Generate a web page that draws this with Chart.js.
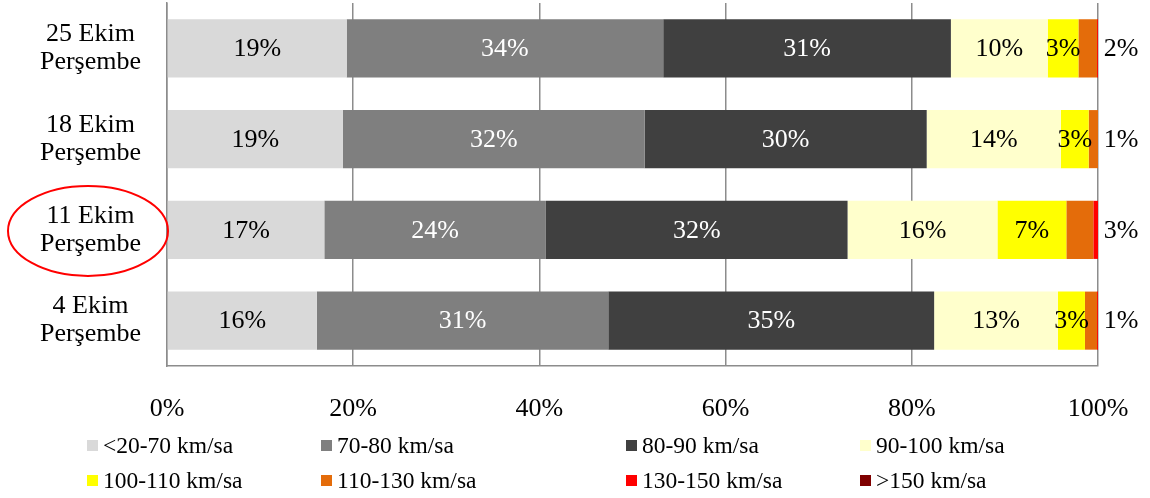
<!DOCTYPE html>
<html>
<head>
<meta charset="utf-8">
<script src="https://cdn.jsdelivr.net/npm/chart.js@4/dist/chart.umd.min.js"></script>
<style>
  html, body { margin: 0; padding: 0; background: #fff; }
  #wrap { width: 1150px; height: 498px; position: relative; }
</style>
</head>
<body>
<div id="wrap"><canvas id="speedChart"></canvas></div>
<script>
// dates (top to bottom)
var days = [['25 Ekim', 'Perşembe'], ['18 Ekim', 'Perşembe'], ['11 Ekim', 'Perşembe'], ['4 Ekim', 'Perşembe']];

// share of vehicles per speed band, %
var band20to70 = [19.3, 18.9, 16.9, 16.1];
var band70to80 = [34.0, 32.4, 23.8, 31.3];
var band80to90 = [30.9, 30.3, 32.4, 35.0];
var band90to100 = [10.4, 14.4, 16.1, 13.3];
var band100to110 = [3.3, 3.0, 7.4, 2.9];
var band110to130 = [2.0, 1.0, 2.9, 1.3];
var band130to150 = [0.1, 0.0, 0.5, 0.1];
var bandOver150 = [0, 0, 0, 0];

var bandNames = ['<20-70 km/sa', '70-80 km/sa', '80-90 km/sa', '90-100 km/sa',
    '100-110 km/sa', '110-130 km/sa', '130-150 km/sa', '>150 km/sa'];
var bandColors = ['#d9d9d9', '#7f7f7f', '#404040', '#ffffcc', '#ffff00', '#e46c0a', '#ff0000', '#7f0000'];
var labelColors = ['#000', '#fff', '#fff', '#000', '#000', '#000', null, null];

var xTicks = [0, 20, 40, 60, 80, 100];

var serif = "'Liberation Serif', 'Times New Roman', serif";

var allBands = [band20to70, band70to80, band80to90, band90to100, band100to110, band110to130, band130to150, bandOver150];

var datasets = allBands.map(function (vals, i) {
    return {
        label: bandNames[i],
        data: vals,
        backgroundColor: bandColors[i],
        borderWidth: 0,
        barPercentage: 0.64,
        categoryPercentage: 1
    };
});

// value labels inside the bars; the orange band is labelled past the bar end
var barLabels = {
    id: 'barLabels',
    afterDatasetsDraw: function (chart) {
        var ctx = chart.ctx;
        ctx.save();
        ctx.font = '26px ' + serif;
        ctx.textAlign = 'center';
        ctx.textBaseline = 'middle';
        chart.data.datasets.forEach(function (ds, i) {
            if (!labelColors[i]) return;
            chart.getDatasetMeta(i).data.forEach(function (el, j) {
                var v = ds.data[j];
                if (!v) return;
                var txt = Math.round(v) + '%';
                var x = (el.x + el.base) / 2;
                if (i === 5) x = chart.chartArea.right + 23;
                ctx.fillStyle = labelColors[i];
                ctx.fillText(txt, x, el.y + 1);
            });
        });
        ctx.restore();
    }
};

// legend laid out in four columns like the original
var gridLegend = {
    id: 'gridLegend',
    afterDraw: function (chart) {
        var ctx = chart.ctx;
        var colX = [87, 321, 626, 860];
        var rowY = [446, 481];
        ctx.save();
        ctx.font = '23.5px ' + serif;
        ctx.textBaseline = 'middle';
        ctx.textAlign = 'left';
        bandNames.forEach(function (name, i) {
            var x = colX[i % 4];
            var y = rowY[Math.floor(i / 4)];
            ctx.fillStyle = bandColors[i];
            ctx.fillRect(x, y - 6, 11, 11);
            ctx.fillStyle = '#000';
            ctx.fillText(name, x + 16, y + 1);
        });
        ctx.restore();
    }
};

// red ring drawn around "11 Ekim Perşembe"
var ring = {
    id: 'ring',
    afterDraw: function (chart) {
        var ctx = chart.ctx;
        var yScale = chart.scales.y;
        var cy = yScale.getPixelForValue(2);
        ctx.save();
        ctx.strokeStyle = '#ff0000';
        ctx.lineWidth = 2;
        ctx.beginPath();
        ctx.ellipse(88, cy + 1, 80, 45, 0, 0, Math.PI * 2);
        ctx.stroke();
        ctx.restore();
    }
};

new Chart(document.getElementById('speedChart'), {
    type: 'bar',
    data: { labels: days, datasets: datasets },
    options: {
        indexAxis: 'y',
        responsive: true,
        maintainAspectRatio: false,
        animation: false,
        layout: { padding: { top: 3, right: 52, bottom: 0, left: 0 } },
        plugins: {
            legend: { display: false },
            tooltip: { enabled: false }
        },
        scales: {
            x: {
                stacked: true,
                min: 0,
                max: 100,
                afterBuildTicks: function (scale) {
                    scale.ticks = xTicks.map(function (v) { return { value: v }; });
                },
                afterFit: function (scale) {
                    scale.height = 132;
                    scale.paddingLeft = 0;
                    scale.paddingRight = 0;
                },
                grid: { color: '#8c8c8c', lineWidth: 1.5, drawTicks: false },
                border: { color: '#8c8c8c', width: 1.5 },
                ticks: {
                    padding: 28,
                    color: '#000',
                    font: { family: serif, size: 26 },
                    callback: function (v) { return v + '%'; }
                }
            },
            y: {
                stacked: true,
                afterFit: function (scale) {
                    scale.width = 167;
                    scale.paddingTop = 0;
                    scale.paddingBottom = 0;
                },
                grid: { display: false, drawTicks: false },
                border: { color: '#8c8c8c', width: 1.5 },
                ticks: {
                    crossAlign: 'center',
                    padding: 26,
                    color: '#000',
                    font: { family: serif, size: 26, lineHeight: 1.08 }
                }
            }
        }
    },
    plugins: [barLabels, gridLegend, ring]
});
</script>
</body>
</html>
